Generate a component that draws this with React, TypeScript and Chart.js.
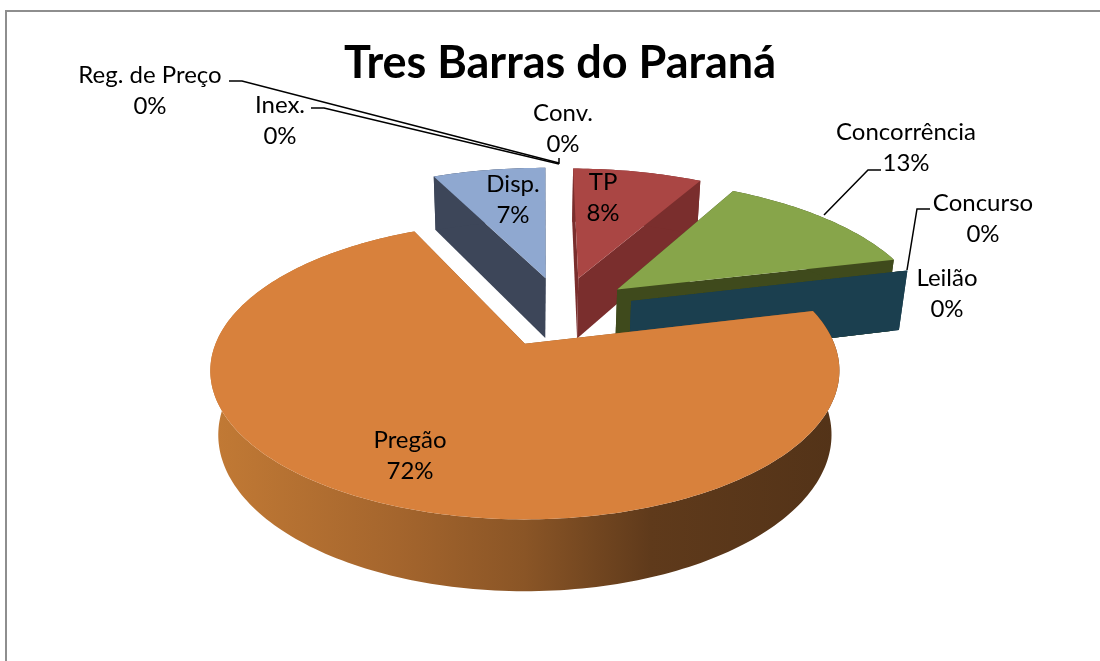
import React, { useEffect, useRef } from "react";
import { Chart, registerables, ArcElement, PieController } from "chart.js";

const categories = ["Conv.", "TP", "Concorrência", "Concurso", "Leilão", "Pregão", "Disp.", "Inex.", "Reg. de Preço"];
const shares = [0, 8, 13, 0, 0, 72, 7, 0, 0];
const faceColors = ["#4F81BD", "#AA4644", "#87A54A", "#6B4E8E", "#1B3F4F", "#D8813C", "#8FA8D0", "#A0A0A0", "#A0A0A0"];
const wallColors = ["rgba(0,0,0,0)", "#7A2E2D", "#3F4A1C", "#3F4A1C", "#1B3F4F", "#8A5526", "#3D4659", "rgba(0,0,0,0)", "rgba(0,0,0,0)"];
const radiusScale = [1, 1.065, 1.04, 1, 1.025, 0.997, 1.07, 1, 1];
const explode = [76, 76, 76, 76, 76, 88, 76, 76, 76];
const labelCenters = [[563, 113], [603, 182], [906, 132], [983, 203], [947, 278], [410, 440], [513, 184], [280, 105], [150, 75]];
const leaders = [
  [[229, 81], [242, 81], [559, 163], [559, 158]],
  [[311, 108], [324, 108], [559, 164]],
  [[881, 170], [868, 170], [824, 215]],
  [[930, 209], [917, 209], [907, 270]],
];
const rimStops: [number, string][] = [[0, "#C27A35"], [0.3, "#A4652D"], [0.5, "#8A5526"], [0.7, "#5F3A1B"], [1, "#533318"]];

// Perspective of the tilted pie
const VIEW = { cx: 526, cy: 343, b: 310, a: 144, p: 0.181, q: 0.025, d: 65, centerU: 0.12, centerV: -0.25 };
const project = (u: number, v: number, z: number) => {
  const w = 1 - VIEW.p * v + VIEW.q * z;
  return [VIEW.cx + (VIEW.b * u) / w, VIEW.cy + (VIEW.a * v + VIEW.d * z) / w];
};
const fillPoly = (ctx: any, pts: number[][], style: any) => {
  ctx.beginPath();
  pts.forEach((p, i) => (i ? ctx.lineTo(p[0], p[1]) : ctx.moveTo(p[0], p[1])));
  ctx.closePath();
  ctx.fillStyle = style;
  ctx.fill();
};

class Arc3D extends ArcElement {
  static id = "arc3d";
  draw(ctx: any) {
    const self: any = this;
    const { startAngle, endAngle, outerRadius, options } = self;
    const i = self.$context.dataIndex;
    const radius = (outerRadius / VIEW.b) * radiusScale[i];
    const off = (options.offset || 0) / VIEW.b;
    const mid = (startAngle + endAngle) / 2;
    const ou = VIEW.centerU + Math.cos(mid) * off;
    const ov = VIEW.centerV + Math.sin(mid) * off;
    const at = (a: number, r: number, z: number) => project(ou + Math.cos(a) * r, ov + Math.sin(a) * r, z);
    const steps = Math.max(1, Math.ceil((endAngle - startAngle) / 0.02));
    const rim = (z: number) => {
      const out: number[][] = [];
      for (let s = 0; s <= steps; s++) out.push(at(startAngle + ((endAngle - startAngle) * s) / steps, radius, z));
      return out;
    };
    const wall = options.borderColor;
    for (const a of [startAngle, endAngle]) {
      fillPoly(ctx, [at(a, 0, 0), at(a, radius, 0), at(a, radius, 1), at(a, 0, 1)], wall);
    }
    let rimStyle: any = wall;
    if (endAngle - startAngle > Math.PI) {
      rimStyle = ctx.createLinearGradient(210, 0, 840, 0);
      rimStops.forEach(([o, c]) => rimStyle.addColorStop(o, c));
    }
    if (endAngle > startAngle) {
      fillPoly(ctx, [...rim(0), ...rim(1).reverse()], rimStyle);
      fillPoly(ctx, [at(startAngle, 0, 0), ...rim(0)], options.backgroundColor);
    }
  }
}

class Pie3D extends PieController {
  static id = "pie3d";
  static defaults = { dataElementType: "arc3d" };
}

Chart.register(...registerables, Arc3D, Pie3D);

const LABEL_FONT = '24px Lato, "Open Sans", sans-serif';

const decorPlugin = {
  id: "decor",
  beforeDraw(chart: any) {
    const { ctx, width, height } = chart;
    ctx.save();
    ctx.strokeStyle = "#8E8E8E";
    ctx.lineWidth = 2;
    ctx.beginPath();
    ctx.moveTo(6, height);
    ctx.lineTo(6, 11);
    ctx.lineTo(width, 11);
    ctx.stroke();
    ctx.restore();
  },
  afterDraw(chart: any) {
    const { ctx } = chart;
    ctx.save();
    ctx.strokeStyle = "#000";
    ctx.lineWidth = 1.5;
    leaders.forEach((pts) => {
      ctx.beginPath();
      pts.forEach((p, i) => (i ? ctx.lineTo(p[0], p[1]) : ctx.moveTo(p[0], p[1])));
      ctx.stroke();
    });
    ctx.fillStyle = "#000";
    ctx.font = LABEL_FONT;
    ctx.textAlign = "center";
    ctx.textBaseline = "middle";
    categories.forEach((name, i) => {
      const [x, y] = labelCenters[i];
      ctx.fillText(name, x, y);
      ctx.fillText(`${shares[i]}%`, x, y + 31);
    });
    ctx.restore();
  },
};

export default function App() {
  const ref = useRef<HTMLCanvasElement>(null);
  useEffect(() => {
    const chart = new Chart(ref.current as HTMLCanvasElement, {
      type: "pie3d" as any,
      data: {
        labels: categories,
        datasets: [
          {
            data: shares,
            backgroundColor: faceColors,
            borderColor: wallColors,
            borderWidth: 0,
            offset: explode,
            radius: 310,
            rotation: 0.6,
          } as any,
        ],
      },
      options: {
        responsive: false,
        animation: false,
        layout: { padding: { left: 20 } },
        plugins: {
          legend: { display: false },
          tooltip: { enabled: false },
          title: {
            display: true,
            text: "Tres Barras do Paraná",
            fullSize: false,
            color: "#000",
            font: { family: 'Lato, "Open Sans", sans-serif', size: 45, weight: "bold" },
            padding: { top: 36, bottom: 10 },
          },
        },
      } as any,
      plugins: [decorPlugin],
    });
    return () => chart.destroy();
  }, []);
  return (
    <canvas
      ref={ref}
      width={1100}
      height={661}
      style={{ position: "fixed", left: 0, top: 0, width: 1100, height: 661 }}
    />
  );
}
